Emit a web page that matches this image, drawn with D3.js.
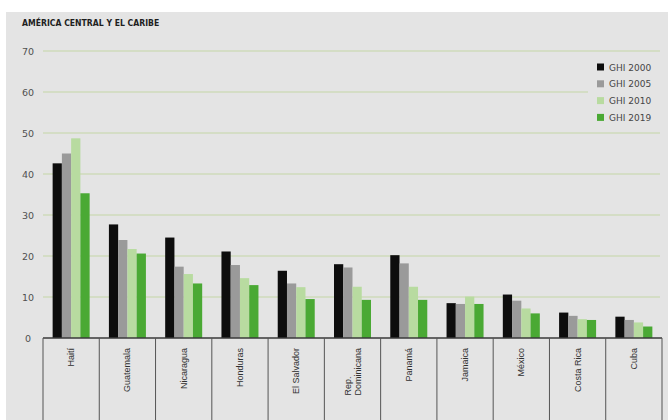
<!DOCTYPE html>
<html>
<head>
<meta charset="utf-8">
<script src="https://cdn.jsdelivr.net/npm/d3@7"></script>
<style>
  html, body { margin: 0; padding: 0; background: #ffffff; }
  svg { display: block; }
</style>
</head>
<body>
<svg id="chart" width="668" height="420"></svg>
<script>
// Global Hunger Index scores, Central America and the Caribbean
const countries = ["Haití", "Guatemala", "Nicaragua", "Honduras", "El Salvador",
  "Rep.\nDominicana", "Panamá", "Jamaica", "México", "Costa Rica", "Cuba"];
const seriesNames = ["GHI 2000", "GHI 2005", "GHI 2010", "GHI 2019"];
const ghi2000 = [42.6, 27.7, 24.5, 21.1, 16.4, 18.0, 20.2, 8.5, 10.6, 6.2, 5.2];
const ghi2005 = [45.0, 23.9, 17.4, 17.8, 13.3, 17.2, 18.2, 8.3, 9.1, 5.4, 4.4];
const ghi2010 = [48.7, 21.7, 15.6, 14.6, 12.4, 12.5, 12.5, 10.1, 7.2, 4.6, 3.8];
const ghi2019 = [35.3, 20.6, 13.3, 12.9, 9.5, 9.3, 9.3, 8.3, 6.0, 4.4, 2.8];
const yTicks = [0, 10, 20, 30, 40, 50, 60, 70];
const seriesColors = ["#0d0d0d", "#9a9a9a", "#b8dba0", "#4aa934"];

const values = [ghi2000, ghi2005, ghi2010, ghi2019];
const svg = d3.select("#chart");

// panel background
svg.append("rect").attr("x", 6).attr("y", 12).attr("width", 662).attr("height", 408)
  .attr("fill", "#e4e4e4");

// title
svg.append("text").attr("x", 22).attr("y", 26)
  .attr("font-family", "'DejaVu Sans Condensed', 'DejaVu Sans', sans-serif")
  .attr("font-weight", "bold").attr("font-size", 8.6).attr("fill", "#1e1e1e")
  .text("AMÉRICA CENTRAL Y EL CARIBE");

const y = d3.scaleLinear().domain([0, 70]).range([338, 51]);
const x = d3.scaleBand().domain(countries).range([43, 662]).paddingInner(0).paddingOuter(0);
const groupW = 37;
const x1 = d3.scaleBand().domain(seriesNames).range([0, groupW]).padding(0);

// gridlines
svg.append("g").selectAll("line").data(yTicks.filter(t => t > 0)).join("line")
  .attr("x1", 43).attr("x2", 660)
  .attr("y1", d => y(d)).attr("y2", d => y(d))
  .attr("stroke", "#c3d5a6").attr("stroke-width", 1.2);

// y axis labels
const yAxis = d3.axisLeft(y).tickValues(yTicks).tickSize(0).tickPadding(0);
const ya = svg.append("g").attr("transform", "translate(34,0)").call(yAxis);
ya.select(".domain").remove();
ya.selectAll("text")
  .attr("x", -6).attr("text-anchor", "middle")
  .attr("font-family", "'DejaVu Sans', sans-serif").attr("font-size", 9.5)
  .attr("fill", "#505050");

// legend (opaque box over the gridlines)
const lg = svg.append("g");
lg.append("rect").attr("x", 588).attr("y", 57).attr("width", 80).attr("height", 70)
  .attr("fill", "#e4e4e4");
seriesNames.forEach((s, i) => {
  const cy = 67 + i * 16.8;
  lg.append("rect").attr("x", 597).attr("y", cy - 3.5).attr("width", 7).attr("height", 7)
    .attr("fill", seriesColors[i]);
  lg.append("text").attr("x", 609).attr("y", cy + 3.5)
    .attr("font-family", "'DejaVu Sans', sans-serif").attr("font-size", 9)
    .attr("fill", "#454545").text(s);
});

// bars
const groups = svg.append("g").selectAll("g").data(countries).join("g")
  .attr("transform", d => `translate(${x(d) + (x.bandwidth() - groupW) / 2},0)`);
groups.selectAll("rect")
  .data((c, ci) => seriesNames.map((s, si) => ({ s, v: values[si][ci], c: seriesColors[si] })))
  .join("rect")
  .attr("x", d => x1(d.s)).attr("width", x1.bandwidth())
  .attr("y", d => y(d.v)).attr("height", d => y(0) - y(d.v))
  .attr("fill", d => d.c);

// category boxes below the baseline
const bottom = svg.append("g");
bottom.append("line").attr("x1", 43).attr("x2", 662).attr("y1", y(0)).attr("y2", y(0))
  .attr("stroke", "#3a3a3a").attr("stroke-width", 1.3);
const edges = countries.map(c => x(c)).concat([x.range()[1]]);
bottom.selectAll("line.div").data(edges).join("line").attr("class", "div")
  .attr("x1", d => d).attr("x2", d => d).attr("y1", y(0)).attr("y2", 420)
  .attr("stroke", "#555555").attr("stroke-width", 1);

// rotated category labels, top-aligned just below the baseline
const labelTop = 348;
countries.forEach(c => {
  const lines = c.split("\n");
  const cx = x(c) + x.bandwidth() / 2;
  const g = bottom.append("g").attr("transform", `translate(${cx},${labelTop}) rotate(-90)`);
  const lineH = 10;
  const t = g.append("text")
    .attr("font-family", "'Liberation Sans', Arial, sans-serif").attr("font-size", 9)
    .attr("fill", "#303030");
  lines.forEach((ln, i) => {
    t.append("tspan").attr("x", 0)
      .attr("y", (i - (lines.length - 1) / 2) * lineH + 3)
      .text(ln);
  });
  // left-aligned block whose longest line ends at the top edge
  const tsp = t.selectAll("tspan").nodes();
  const maxLen = d3.max(tsp, n => n.getComputedTextLength());
  t.selectAll("tspan").attr("x", -maxLen);
});
</script>
</body>
</html>
